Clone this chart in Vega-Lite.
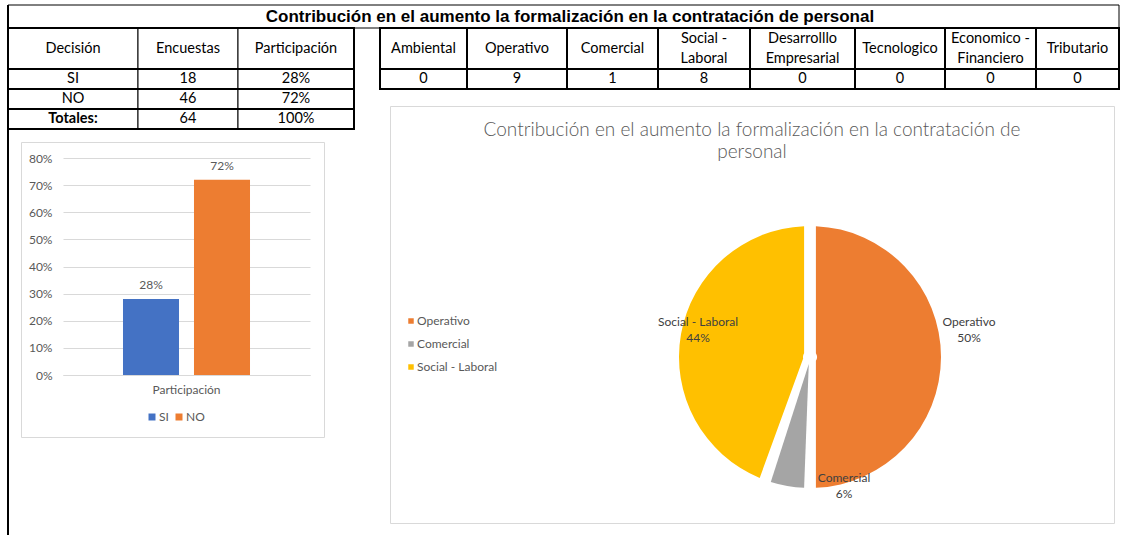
{
  "$schema": "https://vega.github.io/schema/vega-lite/v6.json",
  "background": "white",
  "padding": {"left": 7, "top": 4, "right": 0, "bottom": 0},
  "bounds": "flush",
  "spacing": 0,
  "resolve": {"scale": {"color": "independent"}, "legend": {"color": "independent"}},
  "config": {
    "view": {"stroke": null},
    "font": "Lato",
    "axis": {"labelFont": "Lato", "titleFont": "Lato"},
    "legend": {"labelFont": "Lato", "titleFont": "Lato"},
    "title": {"font": "Lato"}
  },
  "datasets": {
    "celdas": [
      {"tabla": "titulo", "c": 0, "c2": 12, "r": 0, "r2": 1, "texto": "Contribución en el aumento la formalización en la contratación de personal"},
      {"tabla": "decision", "c": 0, "c2": 1, "r": 1, "r2": 2, "texto": "Decisión"},
      {"tabla": "decision", "c": 1, "c2": 2, "r": 1, "r2": 2, "texto": "Encuestas"},
      {"tabla": "decision", "c": 2, "c2": 3, "r": 1, "r2": 2, "texto": "Participación"},
      {"tabla": "decision", "c": 0, "c2": 1, "r": 2, "r2": 3, "texto": "SI"},
      {"tabla": "decision", "c": 1, "c2": 2, "r": 2, "r2": 3, "texto": "18"},
      {"tabla": "decision", "c": 2, "c2": 3, "r": 2, "r2": 3, "texto": "28%"},
      {"tabla": "decision", "c": 0, "c2": 1, "r": 3, "r2": 4, "texto": "NO"},
      {"tabla": "decision", "c": 1, "c2": 2, "r": 3, "r2": 4, "texto": "46"},
      {"tabla": "decision", "c": 2, "c2": 3, "r": 3, "r2": 4, "texto": "72%"},
      {"tabla": "decision", "c": 0, "c2": 1, "r": 4, "r2": 5, "texto": "Totales:"},
      {"tabla": "decision", "c": 1, "c2": 2, "r": 4, "r2": 5, "texto": "64"},
      {"tabla": "decision", "c": 2, "c2": 3, "r": 4, "r2": 5, "texto": "100%"},
      {"tabla": "areas", "c": 4, "c2": 5, "r": 1, "r2": 2, "texto": "Ambiental"},
      {"tabla": "areas", "c": 5, "c2": 6, "r": 1, "r2": 2, "texto": "Operativo"},
      {"tabla": "areas", "c": 6, "c2": 7, "r": 1, "r2": 2, "texto": "Comercial"},
      {"tabla": "areas", "c": 7, "c2": 8, "r": 1, "r2": 2, "texto": "Social -\nLaboral"},
      {"tabla": "areas", "c": 8, "c2": 9, "r": 1, "r2": 2, "texto": "Desarrolllo\nEmpresarial"},
      {"tabla": "areas", "c": 9, "c2": 10, "r": 1, "r2": 2, "texto": "Tecnologico"},
      {"tabla": "areas", "c": 10, "c2": 11, "r": 1, "r2": 2, "texto": "Economico -\nFinanciero"},
      {"tabla": "areas", "c": 11, "c2": 12, "r": 1, "r2": 2, "texto": "Tributario"},
      {"tabla": "areas", "c": 4, "c2": 5, "r": 2, "r2": 3, "texto": "0"},
      {"tabla": "areas", "c": 5, "c2": 6, "r": 2, "r2": 3, "texto": "9"},
      {"tabla": "areas", "c": 6, "c2": 7, "r": 2, "r2": 3, "texto": "1"},
      {"tabla": "areas", "c": 7, "c2": 8, "r": 2, "r2": 3, "texto": "8"},
      {"tabla": "areas", "c": 8, "c2": 9, "r": 2, "r2": 3, "texto": "0"},
      {"tabla": "areas", "c": 9, "c2": 10, "r": 2, "r2": 3, "texto": "0"},
      {"tabla": "areas", "c": 10, "c2": 11, "r": 2, "r2": 3, "texto": "0"},
      {"tabla": "areas", "c": 11, "c2": 12, "r": 2, "r2": 3, "texto": "0"},
      {"tabla": "borde", "c": 0, "c2": 0, "r": 0, "r2": 6, "texto": ""}
    ],
    "decision": [
      {"decision": "SI", "encuestas": 18, "participacion": 0.28},
      {"decision": "NO", "encuestas": 46, "participacion": 0.72}
    ],
    "areas": [
      {"area": "Ambiental", "valor": 0, "porcentaje": 0},
      {"area": "Operativo", "valor": 9, "porcentaje": 0.5},
      {"area": "Comercial", "valor": 1, "porcentaje": 0.0556},
      {"area": "Social - Laboral", "valor": 8, "porcentaje": 0.4444},
      {"area": "Desarrolllo Empresarial", "valor": 0, "porcentaje": 0},
      {"area": "Tecnologico", "valor": 0, "porcentaje": 0},
      {"area": "Economico - Financiero", "valor": 0, "porcentaje": 0},
      {"area": "Tributario", "valor": 0, "porcentaje": 0}
    ]
  },
  "vconcat": [
    {
      "width": 1098,
      "height": 101,
      "data": {"name": "celdas"},
      "resolve": {"scale": {"x": "independent", "y": "independent"}},
      "layer": [
        {
          "transform": [{"filter": "datum.tabla != 'borde'"}],
          "mark": {"type": "rect", "fill": "white", "stroke": "black"},
          "encoding": {
            "x": {"field": "c", "type": "quantitative", "axis": null,
                  "scale": {"domain": [0,1,2,3,4,5,6,7,8,9,10,11,12], "range": [-13,117,217,333,359,446,546,637,729,834,924,1015,1098], "zero": false, "nice": false}},
            "x2": {"field": "c2"},
            "y": {"field": "r", "type": "quantitative", "axis": null,
                  "scale": {"domain": [0,1,2,3,4,5,6], "range": [0,23,64,84,104,124,530], "zero": false, "nice": false}},
            "y2": {"field": "r2"},
            "strokeWidth": {"condition": {"test": "datum.tabla == 'areas'", "value": 2}, "value": 1}
          }
        },
        {
          "transform": [
            {"filter": "datum.tabla == 'decision' || datum.tabla == 'areas'"},
            {"aggregate": [{"op": "min", "field": "c", "as": "cmin"}, {"op": "max", "field": "c2", "as": "cmax"}], "groupby": ["tabla", "r", "r2"]}
          ],
          "mark": {"type": "rect", "filled": false, "stroke": "black", "strokeWidth": 2},
          "encoding": {
            "x": {"field": "cmin", "type": "quantitative", "axis": null,
                  "scale": {"domain": [0,1,2,3,4,5,6,7,8,9,10,11,12], "range": [-13,117,217,333,359,446,546,637,729,834,924,1015,1098], "zero": false, "nice": false}},
            "x2": {"field": "cmax"},
            "y": {"field": "r", "type": "quantitative", "axis": null,
                  "scale": {"domain": [0,1,2,3,4,5,6], "range": [0,23,64,84,104,124,530], "zero": false, "nice": false}},
            "y2": {"field": "r2"}
          }
        },
        {
          "transform": [{"filter": "datum.tabla == 'borde'"}],
          "mark": {"type": "rule", "color": "black", "strokeWidth": 2},
          "encoding": {
            "x": {"field": "c", "type": "quantitative", "axis": null,
                  "scale": {"domain": [0,1,2,3,4,5,6,7,8,9,10,11,12], "range": [-13,117,217,333,359,446,546,637,729,834,924,1015,1098], "zero": false, "nice": false}},
            "y": {"field": "r", "type": "quantitative", "axis": null,
                  "scale": {"domain": [0,1,2,3,4,5,6], "range": [0,23,64,84,104,124,530], "zero": false, "nice": false}},
            "y2": {"field": "r2"}
          }
        },
        {
          "transform": [{"filter": "datum.tabla != 'titulo' && datum.tabla != 'borde' && datum.texto != 'Totales:' && indexof(datum.texto, '\\n') < 0"}],
          "mark": {"type": "text", "font": "Lato", "fontSize": 14.5, "color": "black"},
          "encoding": {
            "x": {"field": "c", "type": "quantitative", "axis": null,
                  "scale": {"domain": [0,1,2,3,4,5,6,7,8,9,10,11], "range": [52,167,275,346,402.5,496,591.5,683,781.5,879,969.5,1056.5], "zero": false, "nice": false}},
            "y": {"field": "r", "type": "quantitative", "axis": null,
                  "scale": {"domain": [0,1,2,3,4], "range": [11.5,43.5,74,94,114], "zero": false, "nice": false}},
            "text": {"field": "texto"}
          }
        },
        {
          "transform": [{"filter": "indexof(datum.texto, '\\n') >= 0"}],
          "mark": {"type": "text", "font": "Lato", "fontSize": 14.5, "color": "black", "lineBreak": "\n", "lineHeight": 20, "dy": -10},
          "encoding": {
            "x": {"field": "c", "type": "quantitative", "axis": null,
                  "scale": {"domain": [0,1,2,3,4,5,6,7,8,9,10,11], "range": [52,167,275,346,402.5,496,591.5,683,781.5,879,969.5,1056.5], "zero": false, "nice": false}},
            "y": {"field": "r", "type": "quantitative", "axis": null,
                  "scale": {"domain": [0,1,2,3,4], "range": [11.5,43.5,74,94,114], "zero": false, "nice": false}},
            "text": {"field": "texto"}
          }
        },
        {
          "transform": [{"filter": "datum.texto == 'Totales:'"}],
          "mark": {"type": "text", "font": "Lato", "fontSize": 14.5, "fontWeight": "bold", "color": "black"},
          "encoding": {
            "x": {"field": "c", "type": "quantitative", "axis": null,
                  "scale": {"domain": [0,1,2,3,4,5,6,7,8,9,10,11], "range": [52,167,275,346,402.5,496,591.5,683,781.5,879,969.5,1056.5], "zero": false, "nice": false}},
            "y": {"field": "r", "type": "quantitative", "axis": null,
                  "scale": {"domain": [0,1,2,3,4], "range": [11.5,43.5,74,94,114], "zero": false, "nice": false}},
            "text": {"field": "texto"}
          }
        },
        {
          "transform": [{"filter": "datum.tabla == 'titulo'"}],
          "mark": {"type": "text", "font": "Liberation Sans", "fontSize": 17, "fontWeight": "bold", "color": "black"},
          "encoding": {
            "y": {"field": "r", "type": "quantitative", "axis": null,
                  "scale": {"domain": [0,1,2,3,4], "range": [11.5,43.5,74,94,114], "zero": false, "nice": false}},
            "text": {"field": "texto"}
          }
        }
      ]
    },
    {
      "bounds": "full",
      "spacing": 64,
      "resolve": {"scale": {"color": "independent"}, "legend": {"color": "independent"}},
      "hconcat": [
        {
          "bounds": "flush",
          "spacing": 35,
          "vconcat": [
            {"width": 1, "height": 1, "view": {"fill": "white"}, "data": {"values": []}, "mark": "rect"},
            {
              "width": 303,
              "height": 295,
              "view": {"stroke": "#d9d9d9", "fill": "white"},
              "data": {"name": "decision"},
              "encoding": {
                "x": {"datum": "Participación", "type": "nominal",
                      "scale": {"range": [42, 289], "paddingInner": 0, "paddingOuter": 0},
                      "axis": {"orient": "bottom", "offset": -62, "title": null, "ticks": false, "domain": true, "domainColor": "#d9d9d9", "labelPadding": 9, "labelColor": "#595959", "labelFontSize": 12, "labelAngle": 0, "grid": false}},
                "xOffset": {"field": "decision", "type": "nominal", "sort": ["SI", "NO"],
                            "scale": {"paddingInner": 0.211, "paddingOuter": 0.845}},
                "y": {"field": "participacion", "type": "quantitative",
                      "scale": {"domain": [0, 0.8], "range": [233, 16], "nice": false},
                      "axis": {"orient": "left", "offset": -42, "title": null, "values": [0, 0.1, 0.2, 0.3, 0.4, 0.5, 0.6, 0.7, 0.8], "format": ".0%", "domain": false, "ticks": false, "labelPadding": 11, "labelColor": "#595959", "labelFontSize": 12, "grid": true, "gridColor": "#d9d9d9", "gridWidth": 1}}
              },
              "layer": [
                {
                  "mark": {"type": "bar"},
                  "encoding": {
                    "color": {"field": "decision", "type": "nominal",
                              "scale": {"domain": ["SI", "NO"], "range": ["#4472C4", "#ED7D31"]},
                              "legend": {"orient": "none", "legendX": 125, "legendY": 305, "direction": "horizontal", "title": null, "symbolType": "square", "symbolSize": 49, "symbolStrokeWidth": 0, "labelFontSize": 12, "labelColor": "#595959", "labelOffset": 1, "columnPadding": 4}}
                  }
                },
                {
                  "mark": {"type": "text", "fontSize": 12, "color": "#595959", "dy": -14},
                  "encoding": {"text": {"field": "participacion", "type": "quantitative", "format": ".0%"}}
                }
              ]
            }
          ]
        },
        {
          "width": 724,
          "height": 417,
          "view": {"stroke": "#d9d9d9", "fill": "white"},
          "title": {"text": ["Contribución en el aumento la formalización en la contratación de", "personal"], "fontSize": 19, "fontWeight": 300, "color": "#595959", "anchor": "middle", "offset": -56, "lineHeight": 22},
          "data": {"name": "areas"},
          "transform": [
            {"filter": "datum.valor > 0"},
            {"window": [{"op": "row_number", "as": "orden"}]}
          ],
          "encoding": {
            "x": {"datum": "torta", "type": "nominal", "scale": {"range": [289, 551], "paddingInner": 0, "paddingOuter": 0}, "axis": null},
            "y": {"datum": "torta", "type": "nominal", "scale": {"range": [120, 382], "paddingInner": 0, "paddingOuter": 0}, "axis": null},
            "order": {"field": "orden", "type": "quantitative"}
          },
          "resolve": {"scale": {"theta": "independent", "radius": "independent"}},
          "layer": [
            {
              "mark": {"type": "arc", "outerRadius": 131, "innerRadius": 7, "padAngle": 0.09},
              "encoding": {
                "theta": {"field": "valor", "type": "quantitative", "stack": true},
                "color": {"field": "area", "type": "nominal",
                          "scale": {"domain": ["Operativo", "Comercial", "Social - Laboral"], "range": ["#ED7D31", "#A5A5A5", "#FFC000"]},
                          "legend": {"orient": "none", "legendX": 15, "legendY": 209, "direction": "vertical", "title": null, "symbolType": "square", "symbolSize": 30, "symbolStrokeWidth": 0, "labelFontSize": 12, "labelColor": "#595959", "labelOffset": 0, "rowPadding": 11}}
              }
            },
            {
              "mark": {"type": "text", "fontSize": 12, "color": "#404040", "dy": -8},
              "encoding": {
                "theta": {"field": "valor", "type": "quantitative", "stack": true,
                          "scale": {"domain": [0, 4.5, 9.5, 14, 18], "range": [0, 1.4026, 2.8838, 4.9489, 6.2832], "zero": false, "nice": false}},
                "radius": {"field": "valor", "type": "quantitative",
                           "scale": {"type": "linear", "domain": [1, 8, 9], "range": [133.4, 115.2, 161.3], "zero": false, "nice": false}},
                "text": {"field": "area"}
              }
            },
            {
              "mark": {"type": "text", "fontSize": 12, "color": "#404040", "dy": 8},
              "encoding": {
                "theta": {"field": "valor", "type": "quantitative", "stack": true,
                          "scale": {"domain": [0, 4.5, 9.5, 14, 18], "range": [0, 1.4026, 2.8838, 4.9489, 6.2832], "zero": false, "nice": false}},
                "radius": {"field": "valor", "type": "quantitative",
                           "scale": {"type": "linear", "domain": [1, 8, 9], "range": [133.4, 115.2, 161.3], "zero": false, "nice": false}},
                "text": {"field": "porcentaje", "type": "quantitative", "format": ".0%"}
              }
            }
          ]
        }
      ]
    }
  ]
}
